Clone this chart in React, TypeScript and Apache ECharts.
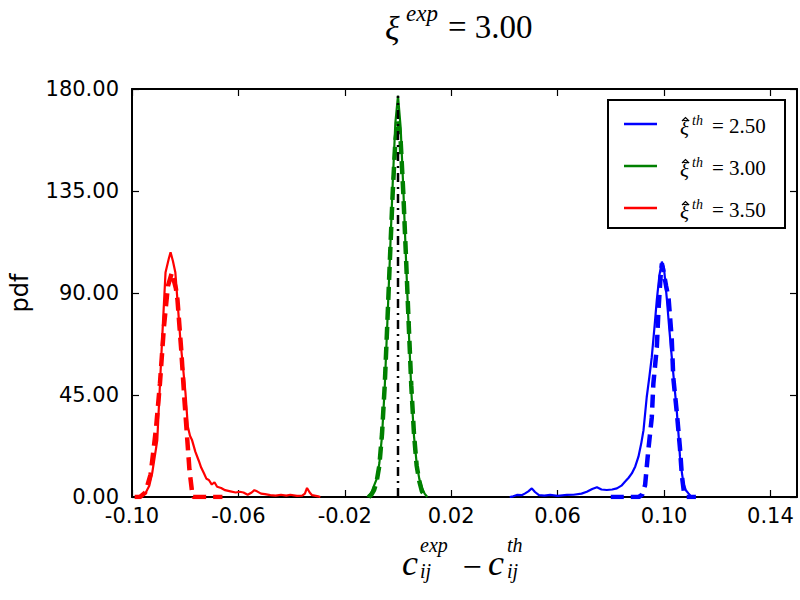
import React, { useEffect, useRef } from 'react';
import * as echarts from 'echarts';

// ---- axis ticks ----
const xTicks = [-0.1, -0.06, -0.02, 0.02, 0.06, 0.1, 0.14];
const yTicks = [0, 45, 90, 135, 180];

// ---- legend / series metadata ----
const seriesLabels = ['2.50', '3.00', '3.50'];
const seriesColors = ['#0000ff', '#008000', '#ff0000'];

// ---- empirical pdfs (solid) ----
const blueSolid: [number, number][] = [
  [0.042, 0], [0.0433, 0.3], [0.0447, 0.9], [0.0465, 0.8], [0.0478, 1.6], [0.049, 2.5], [0.0503, 3.8],
  [0.0515, 2.2], [0.053, 0.8], [0.055, 0.6], [0.0572, 0.9], [0.06, 0.5], [0.0635, 0.9], [0.066, 1.0],
  [0.069, 1.5], [0.071, 2.3], [0.073, 3.5], [0.0748, 4.3], [0.0765, 3.3], [0.0785, 3.1], [0.0805, 3.3],
  [0.0823, 3.8], [0.084, 5.0], [0.0854, 6.8], [0.0867, 8.5], [0.0879, 10.4], [0.0892, 13.5], [0.0904, 17.8],
  [0.0915, 24], [0.0923, 29.5], [0.0935, 44], [0.0945, 53], [0.0954, 61.7], [0.0965, 76], [0.0973, 87],
  [0.0983, 98], [0.0992, 103.8], [0.1, 101], [0.1011, 87], [0.102, 74], [0.1029, 62], [0.104, 48],
  [0.1048, 38], [0.1055, 27], [0.106, 17.8], [0.1067, 11], [0.1073, 6], [0.1082, 3], [0.1092, 1.6],
  [0.11, 0.5], [0.1106, 0],
];
const greenSolid: [number, number][] = [
  [-0.0115, 0], [-0.01, 2], [-0.009, 5], [-0.008, 8], [-0.007, 15], [-0.006, 27], [-0.005, 48],
  [-0.004, 77], [-0.003, 107], [-0.002, 138], [-0.001, 165], [0.0, 177], [0.001, 163], [0.002, 136],
  [0.003, 105], [0.004, 75], [0.005, 47], [0.006, 27], [0.007, 15], [0.008, 8], [0.009, 4], [0.01, 1.5],
  [0.011, 0],
];
const redSolid: [number, number][] = [
  [-0.0985, 0], [-0.097, 0.5], [-0.0949, 1.8], [-0.0935, 5], [-0.0924, 10.6], [-0.0905, 25], [-0.0896, 47],
  [-0.0887, 69], [-0.0874, 99], [-0.0862, 105], [-0.0855, 108], [-0.0846, 104], [-0.0837, 99], [-0.0828, 85],
  [-0.0818, 69], [-0.0808, 57], [-0.0799, 46], [-0.079, 31], [-0.0782, 27], [-0.0774, 25], [-0.0762, 20],
  [-0.0749, 16], [-0.074, 13], [-0.073, 10.6], [-0.072, 8], [-0.0711, 7.5], [-0.07, 5.5], [-0.069, 6.5],
  [-0.068, 4.5], [-0.0665, 4.0], [-0.065, 3.0], [-0.063, 2.5], [-0.061, 2.0], [-0.0595, 2.3], [-0.0581, 2.0],
  [-0.0565, 1.0], [-0.055, 2.0], [-0.054, 3.0], [-0.053, 2.5], [-0.0515, 1.5], [-0.05, 1.3], [-0.048, 0.8],
  [-0.046, 0.6], [-0.044, 1.0], [-0.042, 0.6], [-0.0405, 1.0], [-0.038, 0.5], [-0.036, 0.6], [-0.035, 1.5],
  [-0.0342, 4.0], [-0.0332, 2.0], [-0.0323, 0.8], [-0.03, 0.3], [-0.0292, 0],
];

// ---- theoretical pdfs (dashed) ----
const blueDashed: [number, number][] = [
  [0.08, 0], [0.0905, 0], [0.0918, 1], [0.0929, 5.3], [0.0941, 20.7], [0.0954, 35], [0.096, 50],
  [0.0973, 66], [0.0979, 82], [0.0987, 97], [0.0992, 103], [0.0999, 99], [0.1008, 93], [0.1017, 88],
  [0.1029, 70], [0.1035, 52.5], [0.1048, 37.6], [0.106, 21.6], [0.1067, 9.7], [0.1075, 2], [0.1085, 0],
  [0.112, 0],
];
const greenDashed: [number, number][] = [
  [-0.011, 0], [-0.01, 1], [-0.009, 3], [-0.008, 7], [-0.007, 14], [-0.006, 28], [-0.005, 49],
  [-0.004, 77], [-0.003, 106], [-0.002, 134], [-0.001, 157], [0.0, 166], [0.001, 157], [0.002, 134],
  [0.003, 106], [0.004, 77], [0.005, 49], [0.006, 28], [0.007, 14], [0.008, 7], [0.009, 2.5], [0.0105, 0],
];
const redDashed: [number, number][] = [
  [-0.099, 0], [-0.097, 0], [-0.095, 2], [-0.093, 10], [-0.091, 30], [-0.0895, 50], [-0.088, 75],
  [-0.0865, 93], [-0.085, 99], [-0.0835, 92], [-0.0829, 87], [-0.0815, 65], [-0.0803, 43], [-0.0784, 12],
  [-0.0775, 3], [-0.077, 0], [-0.066, 0],
];

// ---- reference line (x = 0) ----
const refLine: [number, number][] = [[0, 0], [0, 177]];

const MATH = '"Liberation Serif", "DejaVu Serif", serif';
const SANS = '"DejaVu Sans", sans-serif';

function txt(text: string, x: number, y: number, size: number, italic: boolean, align = 'left') {
  return {
    type: 'text',
    x,
    y,
    silent: true,
    style: {
      text,
      fontSize: size,
      fontFamily: MATH,
      fontStyle: italic ? 'italic' : 'normal',
      fill: '#000',
      align,
      verticalAlign: 'middle',
      textAlign: align,
      textVerticalAlign: 'middle',
    },
  };
}

export default function App() {
  const ref = useRef<HTMLDivElement>(null);
  useEffect(() => {
    if (!ref.current) return;
    const chart = echarts.init(ref.current, null, { renderer: 'svg' });

    const axisLine = { show: true, onZero: false, lineStyle: { color: '#000', width: 2 } };
    const tick = (vals?: number[]) => ({
      show: true,
      inside: true,
      length: 7,
      lineStyle: { color: '#000', width: 1.2 },
      ...(vals ? { customValues: vals } : {}),
    });
    const labelStyle = { color: '#000', fontSize: 21, fontFamily: SANS };

    const solids = [blueSolid, greenSolid, redSolid];
    const dashes = [blueDashed, greenDashed, redDashed];
    const series: any[] = [];
    solids.forEach((d, i) => {
      series.push({
        name: 'ξ̂th = ' + seriesLabels[i],
        type: 'line',
        data: d,
        symbol: 'none',
        showSymbol: false,
        lineStyle: { color: seriesColors[i], width: 2.2 },
        itemStyle: { color: seriesColors[i] },
        z: 2,
      });
      series.push({
        name: 'theory ' + seriesLabels[i],
        type: 'line',
        data: dashes[i],
        symbol: 'none',
        showSymbol: false,
        lineStyle: { color: seriesColors[i], width: 4.5, type: [13, 7] },
        itemStyle: { color: seriesColors[i] },
        z: 3,
      });
    });
    series.push({
      name: 'reference',
      type: 'line',
      data: refLine,
      symbol: 'none',
      showSymbol: false,
      lineStyle: { color: '#000', width: 2.5, type: [9, 5, 2, 5] },
      z: 4,
    });

    // legend drawn as graphics
    const legendEls: any[] = [
      {
        type: 'rect',
        shape: { x: 608, y: 100, width: 177, height: 128 },
        style: { fill: '#fff', stroke: '#000', lineWidth: 2 },
        z: 10,
      },
    ];
    seriesLabels.forEach((lab, i) => {
      const cy = 124 + 42 * i;
      legendEls.push({
        type: 'line',
        shape: { x1: 624, y1: cy, x2: 657, y2: cy },
        style: { stroke: seriesColors[i], lineWidth: 2.5 },
        z: 11,
      });
      legendEls.push({ ...txt('ξ', 680, cy + 4, 21, true), z: 11 });
      legendEls.push({
        type: 'polyline',
        shape: { points: [[682, cy - 3], [685.5, cy - 6.5], [689, cy - 3]] },
        style: { stroke: '#000', lineWidth: 1.2, fill: null },
        z: 11,
      });
      legendEls.push({ ...txt('th', 692, cy - 4, 14, true), z: 11 });
      legendEls.push({ ...txt('= ' + lab, 712, cy + 2, 21, false), z: 11 });
    });

    const option: any = {
      animation: false,
      backgroundColor: '#fff',
      grid: { left: 131, right: 3, top: 89, bottom: 103, containLabel: false },
      xAxis: [
        {
          type: 'value',
          min: -0.1,
          max: 0.15,
          position: 'bottom',
          axisLine,
          axisTick: tick(xTicks),
          axisLabel: {
            ...labelStyle,
            customValues: xTicks,
            margin: 8,
            formatter: (v: number) => v.toFixed(2),
          },
          splitLine: { show: false },
        },
        {
          type: 'value',
          min: -0.1,
          max: 0.15,
          position: 'top',
          axisLine,
          axisTick: tick(xTicks),
          axisLabel: { show: false, customValues: xTicks },
          splitLine: { show: false },
        },
      ],
      yAxis: [
        {
          type: 'value',
          min: yTicks[0],
          max: yTicks[yTicks.length - 1],
          interval: 45,
          position: 'left',
          axisLine,
          axisTick: tick(),
          axisLabel: { ...labelStyle, margin: 13, formatter: (v: number) => v.toFixed(2) },
          splitLine: { show: false },
          name: 'pdf',
          nameLocation: 'middle',
          nameGap: 100,
          nameTextStyle: { color: '#000', fontSize: 24, fontFamily: SANS },
        },
        {
          type: 'value',
          min: yTicks[0],
          max: yTicks[yTicks.length - 1],
          interval: 45,
          position: 'right',
          axisLine,
          axisTick: tick(),
          axisLabel: { show: false },
          splitLine: { show: false },
        },
      ],
      series,
      graphic: [
        // title: xi^{exp} = 3.00
        txt('ξ', 385, 28, 34, true),
        txt('exp', 406, 13, 23, true),
        txt('= 3.00', 448, 27, 33, false),
        // x label: c_ij^exp - c_ij^th
        txt('c', 402, 563, 36, true),
        txt('exp', 420, 545, 20, true),
        txt('ij', 420, 571, 20, true),
        txt('−', 472, 566, 34, false, 'center'),
        txt('c', 488, 563, 36, true),
        txt('th', 507, 545, 20, true),
        txt('ij', 507, 571, 20, true),
        ...legendEls,
      ],
    };
    chart.setOption(option);
    return () => chart.dispose();
  }, []);
  return <div ref={ref} style={{ position: 'absolute', left: 0, top: 0, width: 800, height: 600 }} />;
}
